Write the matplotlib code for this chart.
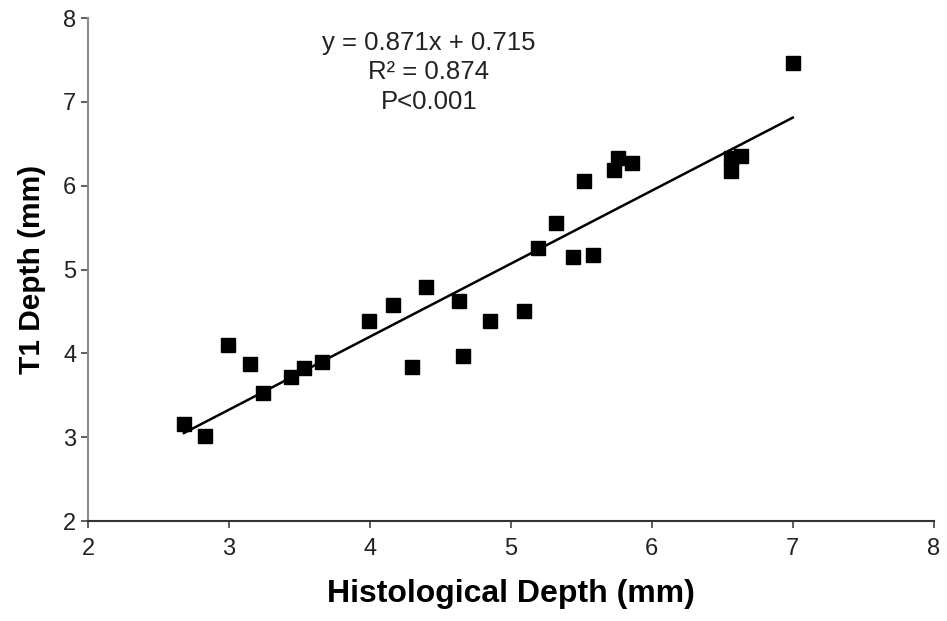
import matplotlib
import matplotlib.pyplot as plt
import numpy as np

matplotlib.use("Agg")

plt.rcParams["font.family"] = ["Liberation Sans", "DejaVu Sans"]

# Histological depth vs T1 depth (mm)
hist_depth = [2.68, 2.83, 2.99, 3.15, 3.24, 3.44, 3.53, 3.66, 3.99, 4.16,
              4.30, 4.40, 4.63, 4.66, 4.85, 5.09, 5.19, 5.32, 5.44, 5.58,
              5.52, 5.73, 5.76, 5.86, 6.56, 6.56, 6.63, 7.00]
t1_depth = [3.16, 3.02, 4.10, 3.87, 3.53, 3.72, 3.82, 3.90, 4.38, 4.58,
            3.84, 4.79, 4.63, 3.97, 4.38, 4.50, 5.26, 5.56, 5.15, 5.17,
            6.05, 6.19, 6.33, 6.27, 6.33, 6.17, 6.35, 7.46]

# trendline from the stated equation
slope = 0.871
intercept = 0.715
ticks = [2, 3, 4, 5, 6, 7, 8]

fig = plt.figure(figsize=(9.47, 6.21), dpi=100)
ax = fig.add_axes([0.093, 0.161, 0.893, 0.810])

ax.plot(hist_depth, t1_depth, "s", color="black", markersize=9.5)

xs = np.array([min(hist_depth), max(hist_depth)])
ax.plot(xs, slope * xs + intercept, color="black", linewidth=1.8)

ax.set_xlim(2, 8)
ax.set_ylim(2, 8)
ax.set_xticks(ticks)
ax.set_yticks(ticks)
ax.tick_params(labelsize=17, direction="out", length=5, width=1.2,
               colors="#444444", labelcolor="#222222")
ax.tick_params(axis="x", pad=7)

for s in ["top", "right"]:
    ax.spines[s].set_visible(False)
ax.spines["left"].set_color("#8c8c8c")
ax.spines["left"].set_linewidth(1.5)
ax.spines["bottom"].set_color("#333333")
ax.spines["bottom"].set_linewidth(1.5)

ax.set_xlabel("Histological Depth (mm)", fontsize=23, fontweight="bold", labelpad=14)
ax.set_ylabel("T1 Depth (mm)", fontsize=21.5, fontweight="bold", labelpad=12)

ax.text(0.403, 0.975, "y = 0.871x + 0.715\nR² = 0.874\nP<0.001",
        transform=ax.transAxes, ha="center", va="top", fontsize=18.5,
        linespacing=1.3, color="#222222")

fig.savefig("out.png", dpi=100)
